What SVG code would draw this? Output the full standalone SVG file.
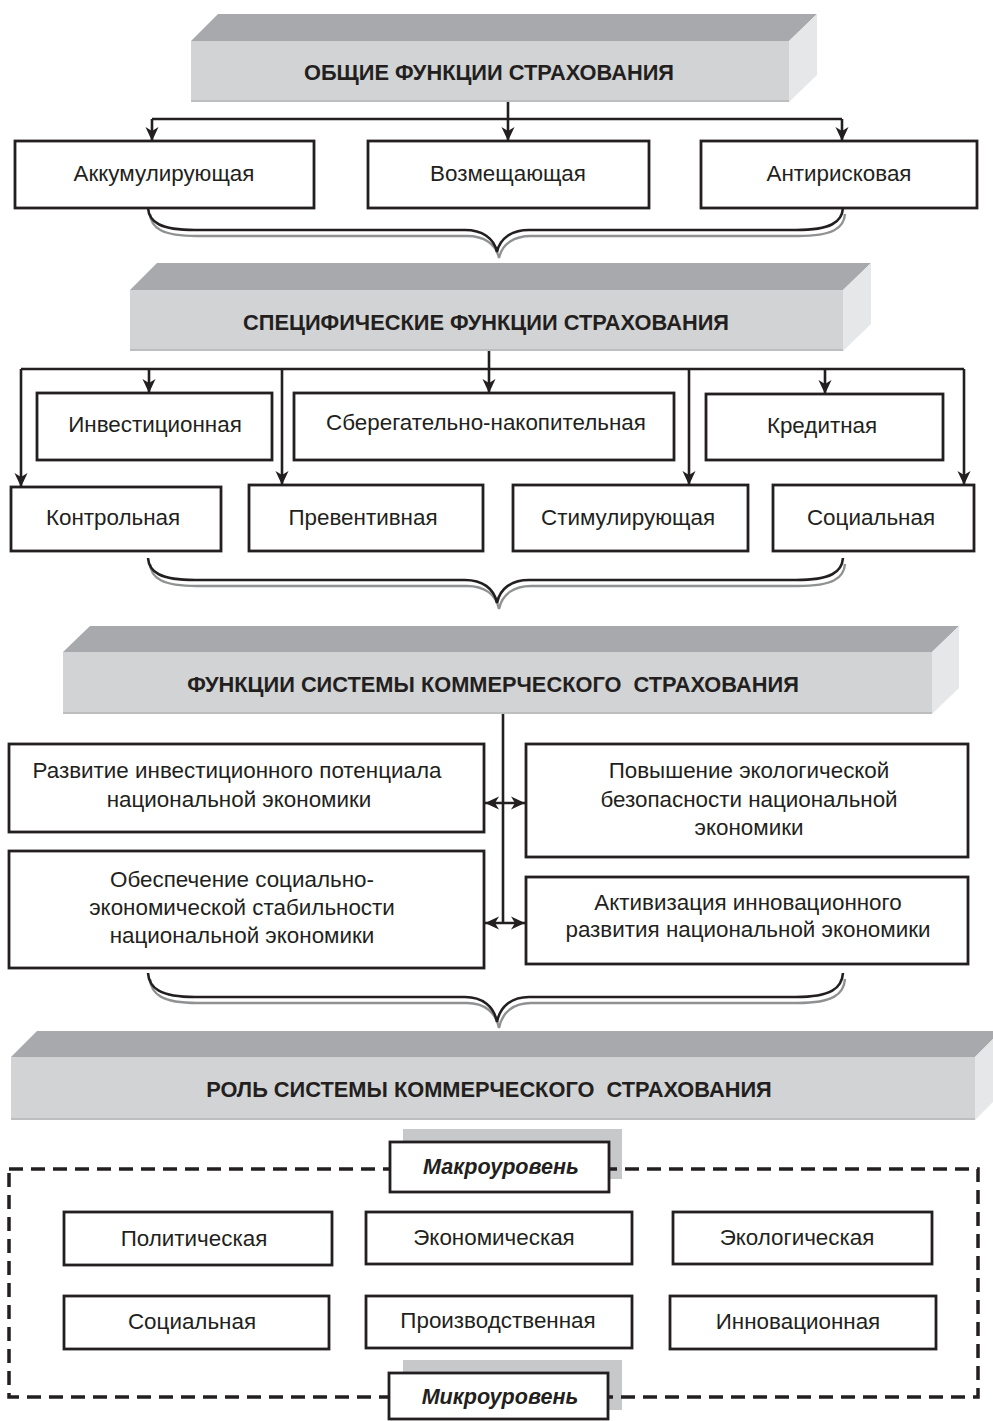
<svg xmlns="http://www.w3.org/2000/svg" width="993" height="1421" viewBox="0 0 993 1421">
<style>
.top{fill:#a7a9ac}
.front{fill:#d1d3d4}
.side{fill:#e6e7e8}
.edge{stroke:#bcbec0;stroke-width:2;fill:none}
.box{fill:#fff;stroke:#231f20;stroke-width:2.8}
.t{font-family:"Liberation Sans",Arial,sans-serif;font-size:22.4px;fill:#231f20;text-anchor:middle}
.h{font-family:"Liberation Sans",Arial,sans-serif;font-size:21.8px;font-weight:bold;fill:#231f20;text-anchor:middle}
.it{font-family:"Liberation Sans",Arial,sans-serif;font-size:21.6px;font-weight:bold;font-style:italic;fill:#231f20;text-anchor:middle}
.ln{fill:none;stroke:#231f20;stroke-width:2.6}
.br{fill:none;stroke:#231f20;stroke-width:2.6}
.brs{fill:none;stroke:#8f9193;stroke-width:2.4}
.dash{fill:none;stroke:#231f20;stroke-width:3.5;stroke-dasharray:14 8}
.shadow{fill:#c7c8ca}
</style>
<defs>
<marker id="ah" viewBox="0 0 14 14" refX="14" refY="7" markerWidth="14" markerHeight="14" markerUnits="userSpaceOnUse" orient="auto-start-reverse">
<path d="M0,0.5 L14,7 L0,13.5 L4,7 z" fill="#231f20"/>
</marker>
</defs>
<rect width="993" height="1421" fill="#fff"/>

<!-- Header 1 -->
<g id="h1">
<polygon class="top" points="191,41 218,14 817,14 789,41"/>
<polygon class="side" points="789,41 817,14 817,75 789,102"/>
<rect class="front" x="191" y="41" width="598" height="61"/>
<line class="edge" x1="191" y1="101" x2="789" y2="101"/>
<text class="h" x="489" y="80">ОБЩИЕ ФУНКЦИИ СТРАХОВАНИЯ</text>
</g>

<g id="n-akk"><rect class="box" x="15" y="141" width="299" height="67"/><text class="t" x="164" y="181">Аккумулирующая</text></g>
<g id="n-voz"><rect class="box" x="368" y="141" width="281" height="67"/><text class="t" x="508" y="181">Возмещающая</text></g>
<g id="n-anti"><rect class="box" x="701" y="141" width="276" height="67"/><text class="t" x="839" y="181">Антирисковая</text></g>

<!-- Header 2 -->
<g id="h2">
<polygon class="top" points="130,290 157,263 871,263 843,290"/>
<polygon class="side" points="843,290 871,263 871,324 843,351"/>
<rect class="front" x="130" y="290" width="713" height="61"/>
<line class="edge" x1="130" y1="350" x2="843" y2="350"/>
<text class="h" x="486" y="330">СПЕЦИФИЧЕСКИЕ ФУНКЦИИ СТРАХОВАНИЯ</text>
</g>

<g id="n-inv"><rect class="box" x="37" y="393" width="235" height="67"/><text class="t" x="155" y="432">Инвестиционная</text></g>
<g id="n-sber"><rect class="box" x="294" y="393" width="380" height="67"/><text class="t" x="486" y="430">Сберегательно-накопительная</text></g>
<g id="n-kred"><rect class="box" x="706" y="394" width="237" height="66"/><text class="t" x="822" y="433">Кредитная</text></g>
<g id="n-kontr"><rect class="box" x="11" y="487" width="210" height="64"/><text class="t" x="113" y="525">Контрольная</text></g>
<g id="n-prev"><rect class="box" x="249" y="485" width="234" height="66"/><text class="t" x="363" y="525">Превентивная</text></g>
<g id="n-stim"><rect class="box" x="513" y="485" width="235" height="66"/><text class="t" x="628" y="525">Стимулирующая</text></g>
<g id="n-soc1"><rect class="box" x="773" y="485" width="201" height="66"/><text class="t" x="871" y="525">Социальная</text></g>

<!-- Header 3 -->
<g id="h3">
<polygon class="top" points="63,652 90,626 959,626 932,652"/>
<polygon class="side" points="932,652 959,626 959,688 932,714"/>
<rect class="front" x="63" y="652" width="869" height="62"/>
<line class="edge" x1="63" y1="713" x2="932" y2="713"/>
<text class="h" x="493" y="692" xml:space="preserve">ФУНКЦИИ СИСТЕМЫ КОММЕРЧЕСКОГО  СТРАХОВАНИЯ</text>
</g>

<g id="n-razv"><rect class="box" x="9" y="744" width="475" height="88"/>
<text class="t" x="237" y="778">Развитие инвестиционного потенциала</text>
<text class="t" x="239" y="807">национальной экономики</text></g>
<g id="n-obesp"><rect class="box" x="9" y="851" width="475" height="117"/>
<text class="t" x="242" y="887">Обеспечение социально-</text>
<text class="t" x="242" y="915">экономической стабильности</text>
<text class="t" x="242" y="943">национальной экономики</text></g>
<g id="n-pov"><rect class="box" x="526" y="744" width="442" height="113"/>
<text class="t" x="749" y="778">Повышение экологической</text>
<text class="t" x="749" y="807">безопасности национальной</text>
<text class="t" x="749" y="835">экономики</text></g>
<g id="n-akt"><rect class="box" x="526" y="877" width="442" height="87"/>
<text class="t" x="748" y="910">Активизация инновационного</text>
<text class="t" x="748" y="937">развития национальной экономики</text></g>

<!-- Header 4 -->
<g id="h4">
<polygon class="top" points="11,1057 37,1031 1001,1031 975,1057"/>
<polygon class="side" points="975,1057 1001,1031 1001,1094 975,1120"/>
<rect class="front" x="11" y="1057" width="964" height="63"/>
<line class="edge" x1="11" y1="1119" x2="975" y2="1119"/>
<text class="h" x="489" y="1097" xml:space="preserve">РОЛЬ СИСТЕМЫ КОММЕРЧЕСКОГО  СТРАХОВАНИЯ</text>
</g>

<!-- Levels frame -->
<g id="frame">
<rect class="shadow" x="403" y="1129" width="219" height="50"/>
<rect class="shadow" x="403" y="1360" width="219" height="50"/>
<rect class="dash" x="9" y="1169" width="969" height="228"/>
</g>
<g id="n-makro"><rect class="box" x="390" y="1142" width="219" height="50"/><text class="it" x="501" y="1174">Макроуровень</text></g>
<g id="n-mikro"><rect class="box" x="389" y="1373" width="219" height="46"/><text class="it" x="500" y="1404">Микроуровень</text></g>

<g id="n-polit"><rect class="box" x="64" y="1212" width="268" height="53"/><text class="t" x="194" y="1246">Политическая</text></g>
<g id="n-ekon"><rect class="box" x="366" y="1212" width="266" height="52"/><text class="t" x="494" y="1245">Экономическая</text></g>
<g id="n-ekol"><rect class="box" x="673" y="1212" width="259" height="52"/><text class="t" x="797" y="1245">Экологическая</text></g>
<g id="n-soc2"><rect class="box" x="64" y="1296" width="265" height="53"/><text class="t" x="192" y="1329">Социальная</text></g>
<g id="n-proizv"><rect class="box" x="366" y="1296" width="266" height="52"/><text class="t" x="498" y="1328">Производственная</text></g>
<g id="n-innov"><rect class="box" x="670" y="1296" width="266" height="53"/><text class="t" x="798" y="1329">Инновационная</text></g>

<!-- Connectors -->
<g id="connectors">
<path class="ln" d="M508,102 V141" marker-end="url(#ah)"/>
<path class="ln" d="M152,119 H842"/>
<path class="ln" d="M152,119 V141" marker-end="url(#ah)"/>
<path class="ln" d="M842,119 V141" marker-end="url(#ah)"/>

<path class="ln" d="M489,351 V393" marker-end="url(#ah)"/>
<path class="ln" d="M21,369 H964"/>
<path class="ln" d="M21,369 V487" marker-end="url(#ah)"/>
<path class="ln" d="M149,369 V393" marker-end="url(#ah)"/>
<path class="ln" d="M282,369 V485" marker-end="url(#ah)"/>
<path class="ln" d="M689,369 V485" marker-end="url(#ah)"/>
<path class="ln" d="M825,369 V394" marker-end="url(#ah)"/>
<path class="ln" d="M964,369 V485" marker-end="url(#ah)"/>

<path class="ln" d="M503,714 V923"/>
<path class="ln" d="M485,803 H525" marker-start="url(#ah)" marker-end="url(#ah)"/>
<path class="ln" d="M485,923 H525" marker-start="url(#ah)" marker-end="url(#ah)"/>

<!-- braces -->
<path class="brs" transform="translate(2,6)" d="M148,208 C149,222 160,230 195,230 L465,230 C482,230 494,238 497,252 C500,238 512,230 529,230 L796,230 C831,230 842,222 843,208"/>
<path class="br" d="M148,208 C149,222 160,230 195,230 L465,230 C482,230 494,238 497,252 C500,238 512,230 529,230 L796,230 C831,230 842,222 843,208"/>

<path class="brs" transform="translate(2,6)" d="M148,558 C149,572 160,580 195,580 L465,580 C482,580 494,588 497,603 C500,588 512,580 529,580 L796,580 C831,580 842,572 843,558"/>
<path class="br" d="M148,558 C149,572 160,580 195,580 L465,580 C482,580 494,588 497,603 C500,588 512,580 529,580 L796,580 C831,580 842,572 843,558"/>

<path class="brs" transform="translate(2,6)" d="M148,973 C149,988 160,997 195,997 L465,997 C482,997 494,1006 497,1022 C500,1006 512,997 529,997 L796,997 C831,997 842,988 843,973"/>
<path class="br" d="M148,973 C149,988 160,997 195,997 L465,997 C482,997 494,1006 497,1022 C500,1006 512,997 529,997 L796,997 C831,997 842,988 843,973"/>
</g>
</svg>
